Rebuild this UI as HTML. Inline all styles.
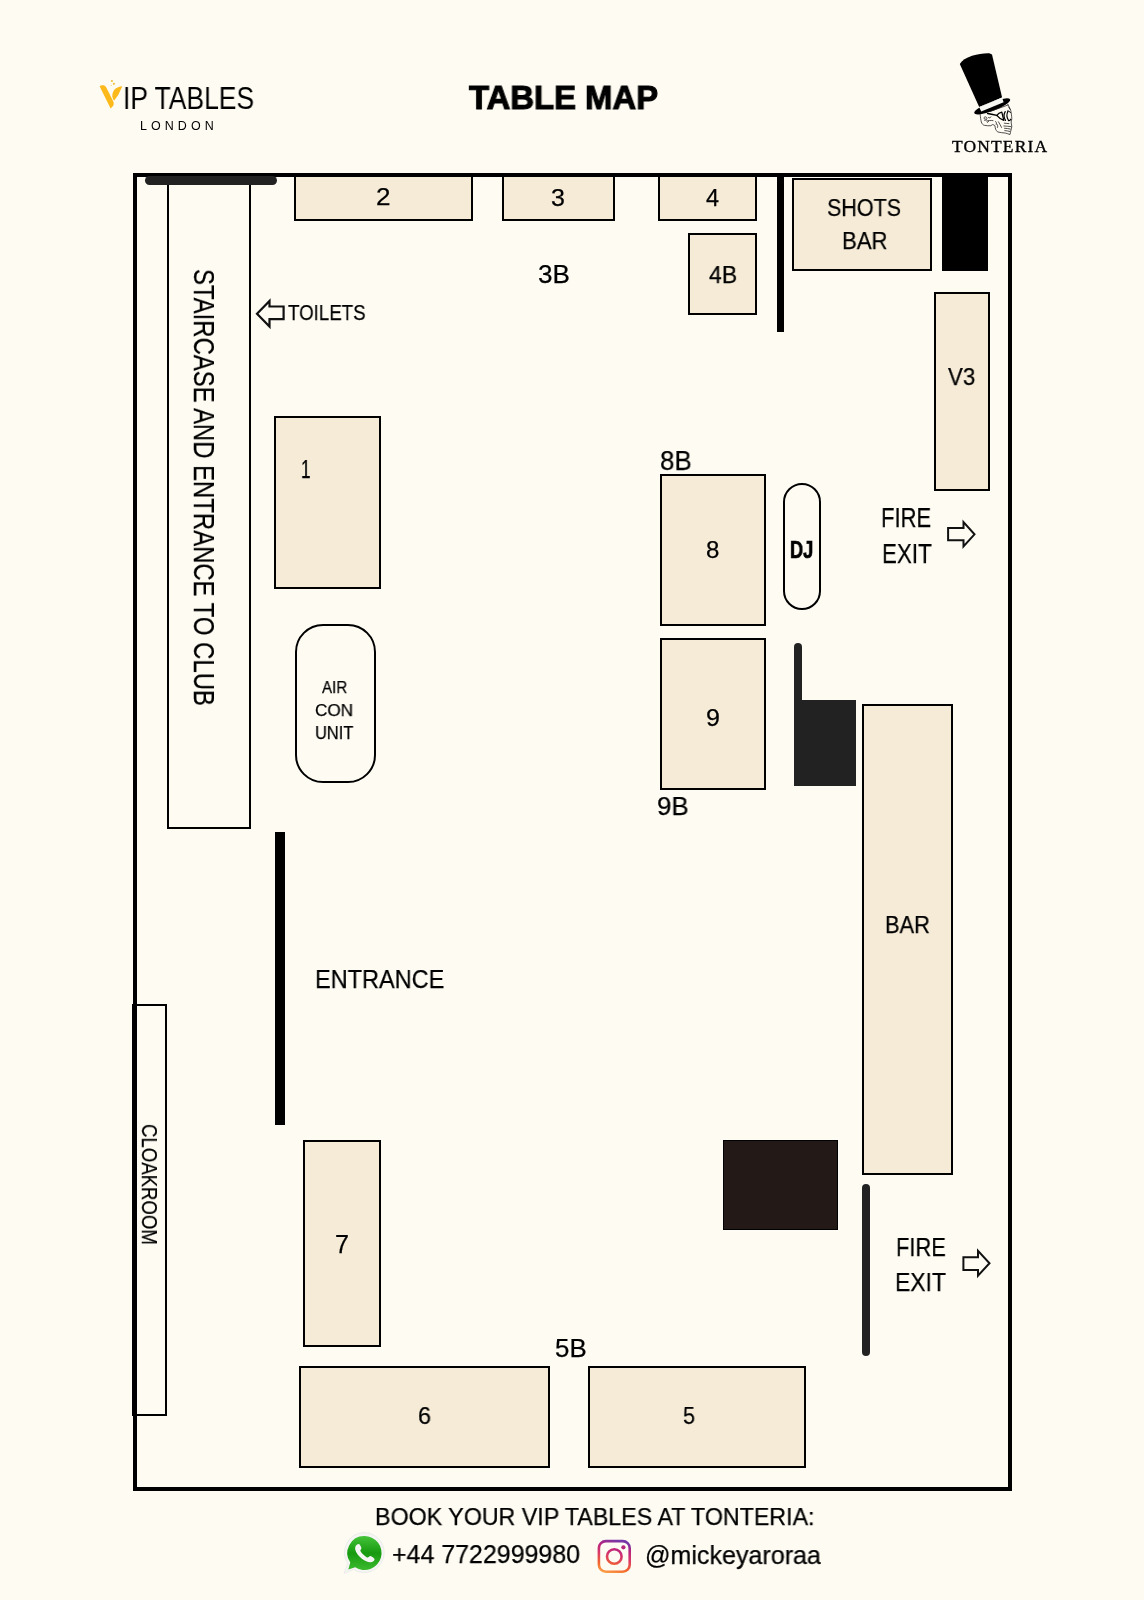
<!DOCTYPE html>
<html><head><meta charset="utf-8">
<style>
html,body{margin:0;padding:0;}
body{-webkit-font-smoothing:antialiased;width:1144px;height:1600px;background:#FEFBF3;position:relative;overflow:hidden;font-family:"Liberation Sans",sans-serif;color:#111;}
.a{position:absolute;box-sizing:border-box;}
.t{background:#F5EBD7;border:2px solid #000;}
.l{position:absolute;white-space:nowrap;line-height:1;transform-origin:0 0;will-change:transform;-webkit-text-stroke:0.25px #000;}
svg{position:absolute;overflow:visible;}
</style></head><body>

<!-- ===== header ===== -->
<svg style="left:96px;top:74px" width="32" height="38" viewBox="0 0 32 38">
 <path d="M3.6,12.3 C4.5,11.3 6,11 7.3,11.2 C8.7,11.5 9.7,12.3 10.3,13.4 L17.2,27.2 C17.9,28.6 17.9,30.3 17.2,31.7 L14.6,34.5 Z" fill="#FBB91B"/>
 <path d="M26.3,12.2 C23.8,12.3 21.5,13.1 19.6,14.6 C17.4,16.5 16.1,19.5 16.3,22.3 C16.5,24 17.2,25.5 18.2,26.6 L22.4,20.8 Z" fill="#FBB91B"/>
 <circle cx="15.9" cy="7" r="1.1" fill="#F0C040"/>
 <circle cx="17.9" cy="9.8" r="1.1" fill="#F0C040"/>
 <circle cx="15.2" cy="11.3" r="0.5" fill="#F0C040"/>
</svg>
<div class="l" style="left:122.71px;top:84.3px;font-size:30.73px;-webkit-text-stroke:0px #000;transform:scaleX(0.8628);color:#000">IP TABLES</div>
<div class="l" style="left:139.9px;top:120.0px;font-size:12.47px;letter-spacing:4.06px;-webkit-text-stroke:0px #000;color:#000">LONDON</div>
<div class="l" style="left:469.0px;top:80.5px;font-size:33.18px;font-weight:bold;-webkit-text-stroke:1.1px #000;transform:scaleX(0.9895);color:#000">TABLE MAP</div>

<svg style="left:950px;top:45px" width="75" height="95" viewBox="0 0 75 95">
 <ellipse cx="42.2" cy="61.4" rx="19.2" ry="4.4" transform="rotate(-21 42.2 61.4)" fill="#000"/>
 <path d="M9.8,19 C12,15.5 16,13 22,10.8 C28,8.9 34,8 39.3,8.2 L42,9.5 L52.1,52.5 L29.2,62 Z" fill="#000"/>
 <path d="M29.2,62 L52.1,52.5 L53.6,57.2 L31.2,66.4 Z" fill="#F6F6F2"/>
 <g fill="none" stroke="#1a1a1a" stroke-width="0.75" stroke-linejoin="round" stroke-linecap="round">
  <path d="M30.2,69.7 C30.5,72.5 30.8,75 31.3,77 C32,79 33,80 34.3,80.3 C36.5,80.8 39,80.9 40.9,80.7 L42.4,79.6 C43.5,79.8 44.5,80 44.9,80.7 C45.2,82 45.3,83.5 45.7,84.4 C46.5,85.8 47,86.6 47.9,87 C50.5,87.6 53,87.9 55.2,88 C57,88.4 58.8,89.2 60,89.5 C60.4,88.3 60.5,87 60.7,86.2 C61.2,84.5 61.7,82.8 61.8,81.4 C61.6,79.8 61.2,78.2 61.1,77 C61.4,75.8 61.8,74.5 61.8,73.4 C61.6,70.5 61.2,67.5 60.7,65.3 C59.8,63 58.8,61 57.8,59.4"/>
  <path d="M35.5,74.2 C34.2,74.4 33.6,73.2 34.2,72.4 C34.9,71.5 36.4,71.8 36.8,72.8 C37.3,74 36.3,75.6 34.6,75.4"/>
  <path d="M38.5,72.5 L39.8,73 L40.8,71.8"/>
  <path d="M36.5,76 C38.5,75.4 41,75.3 43,75.6 M37.3,77.4 L38.6,76.4"/>
  <path d="M45.5,76.5 C46.5,77 46.8,78.2 46.3,79.3 M46.8,79 C47.8,80 48,81.5 47.5,82.5 M48.5,76.8 C49.8,78.5 50.5,81 51.5,82.5"/>
  <path d="M54.3,78.2 C56,78.5 57.5,78.4 59,78.6 M53.8,81 C56,81.3 58.5,81.1 61,81.6 M54.5,83.3 C56.5,83.6 58.5,83.4 60.4,84 M54.8,85.6 C56.5,86 58.3,85.8 59.8,86.4"/>
  <path d="M58.6,62 L60.2,64.5 M40,66.5 L58,60"/>
 </g>
 <path d="M37.6,68.4 C41,69 44,69.6 46.8,70.4" stroke="#000" stroke-width="1.5" fill="none" stroke-linecap="round"/>
 <path d="M46.8,70.4 C48,68.8 49.8,67.6 51.8,67.1 L53.8,75.3 C51.2,74.5 48.6,72.6 46.8,70.4 Z" fill="none" stroke="#000" stroke-width="1.3" stroke-linejoin="round"/>
 <path d="M55.2,66.6 C53.8,69 53.9,72.8 55.5,75.4 M58,66.2 C56.6,68.8 56.8,72.8 58.6,75.6 C59.6,75.8 60.4,75.2 60.8,74.2" fill="none" stroke="#000" stroke-width="1.2" stroke-linecap="round"/>
 <path d="M57.2,66 C58.8,65.8 60,66.6 60.6,68" fill="none" stroke="#000" stroke-width="1"/>
</svg>
<div class="l" style="left:952.0px;top:138.0px;font-size:17.48px;font-family:'Liberation Serif', serif;letter-spacing:1.143px;-webkit-text-stroke:0.35px #000;color:#000">TONTERIA</div>

<!-- ===== floor plan ===== -->
<div class="a" style="left:133px;top:173px;width:879px;height:1318px;border:4px solid #000;"></div>
<div class="a" style="left:167px;top:180px;width:84px;height:648.5px;border:2px solid #000;"></div>
<div class="a" style="left:145px;top:176px;width:132px;height:9px;background:#222;border-radius:4.5px;"></div>
<div class="l" style="left:219.0px;top:269.19px;font-size:29.6px;transform:rotate(90deg) scaleX(0.8076);color:#000">STAIRCASE AND ENTRANCE TO CLUB</div>

<div class="a t" style="left:294px;top:175px;width:179px;height:46px;"></div>
<div class="l" style="left:376.49px;top:185.7px;font-size:23.49px;transform:scaleX(1.1091);color:#000">2</div>
<div class="a t" style="left:502px;top:175px;width:113px;height:46px;"></div>
<div class="l" style="left:551.24px;top:186.6px;font-size:23.49px;transform:scaleX(1.0636);color:#000">3</div>
<div class="a t" style="left:658px;top:175px;width:99px;height:46px;"></div>
<div class="l" style="left:706.0px;top:186.6px;font-size:23.49px;color:#000">4</div>
<div class="a t" style="left:688px;top:233px;width:69px;height:82px;"></div>
<div class="l" style="left:708.6px;top:262.5px;font-size:24.64px;transform:scaleX(0.9345);color:#000">4B</div>
<div class="l" style="left:537.61px;top:261.3px;font-size:26.09px;transform:scaleX(0.9867);color:#000">3B</div>

<svg style="left:0;top:0" width="1144" height="1600" viewBox="0 0 1144 1600">
 <polygon points="257,313.7 269.5,301 269.5,306.5 283.6,306.5 283.6,319.2 269.5,319.2 269.5,326.5" fill="none" stroke="#111" stroke-width="2.2" stroke-linejoin="miter"/>
 <polygon points="948.1,528 963.5,528 963.5,522 974.5,534.3 963.5,546.5 963.5,540.2 948.1,540.2" fill="none" stroke="#111" stroke-width="2" stroke-linejoin="miter"/>
 <polygon points="963.4,1257.2 978,1257.2 978,1250.7 989.5,1263.2 978,1275.7 978,1270 963.4,1270" fill="none" stroke="#111" stroke-width="2" stroke-linejoin="miter"/>
</svg>
<div class="l" style="left:288.3px;top:302.0px;font-size:22.32px;transform:scaleX(0.838);color:#000">TOILETS</div>

<div class="a" style="left:777px;top:177px;width:7px;height:155px;background:#000;"></div>
<div class="a t" style="left:792px;top:178px;width:140px;height:93px;"></div>
<div class="l" style="left:827.11px;top:196.2px;font-size:24.1px;transform:scaleX(0.8914);color:#000">SHOTS</div>
<div class="l" style="left:841.7px;top:228.5px;font-size:24.64px;transform:scaleX(0.9);color:#000">BAR</div>
<div class="a" style="left:942px;top:177px;width:46px;height:94px;background:#000;"></div>
<div class="a t" style="left:934px;top:292px;width:56px;height:199px;"></div>
<div class="l" style="left:948.2px;top:365.4px;font-size:23.82px;transform:scaleX(0.9321);color:#000">V3</div>

<div class="a t" style="left:274px;top:415.5px;width:106.5px;height:173px;"></div>
<div class="l" style="left:300.52px;top:457.4px;font-size:24.93px;transform:scaleX(0.6909);color:#000">1</div>
<div class="a" style="left:294.5px;top:624px;width:81px;height:158.5px;border:2px solid #000;border-radius:28px;"></div>
<div class="l" style="left:321.75px;top:680.25px;font-size:16.68px;transform:scaleX(0.9074);color:#000">AIR</div>
<div class="l" style="left:315.26px;top:701.75px;font-size:17.42px;transform:scaleX(0.9861);color:#000">CON</div>
<div class="l" style="left:314.63px;top:724.25px;font-size:18.84px;transform:scaleX(0.8721);color:#000">UNIT</div>

<div class="l" style="left:659.75px;top:446.7px;font-size:27.26px;transform:scaleX(0.9484);color:#000">8B</div>
<div class="a t" style="left:660px;top:474px;width:106px;height:152px;"></div>
<div class="l" style="left:705.96px;top:538.7px;font-size:23.21px;transform:scaleX(1.0364);color:#000">8</div>
<div class="a" style="left:783px;top:483px;width:38px;height:127px;border:2px solid #000;border-radius:19px;"></div>
<div class="l" style="left:789.72px;top:538.7px;font-size:23.21px;font-weight:bold;-webkit-text-stroke:0.7px #000;transform:scaleX(0.7821);color:#000">DJ</div>
<div class="l" style="left:881.49px;top:504.4px;font-size:27.26px;transform:scaleX(0.8068);color:#000">FIRE</div>
<div class="l" style="left:881.74px;top:540.5px;font-size:26.96px;transform:scaleX(0.8276);color:#000">EXIT</div>
<div class="a t" style="left:660px;top:638px;width:106px;height:151.5px;"></div>
<div class="l" style="left:706.05px;top:705.5px;font-size:23.77px;transform:scaleX(1.0545);color:#000">9</div>
<div class="l" style="left:657.12px;top:793.0px;font-size:26.39px;transform:scaleX(0.98);color:#000">9B</div>

<div class="a" style="left:793.5px;top:643px;width:8.5px;height:129px;background:#222;border-radius:4.25px 4.25px 0 0;"></div>
<div class="a" style="left:794px;top:699.5px;width:61.5px;height:86px;background:#222;"></div>

<div class="a t" style="left:862px;top:704px;width:90.5px;height:471px;"></div>
<div class="l" style="left:884.88px;top:913.2px;font-size:24.06px;transform:scaleX(0.9087);color:#000">BAR</div>

<div class="a" style="left:275px;top:832px;width:10px;height:293px;background:#000;"></div>
<div class="l" style="left:315.03px;top:965.5px;font-size:26.67px;transform:scaleX(0.8826);color:#000">ENTRANCE</div>

<div class="a" style="left:132px;top:1004px;width:35px;height:412px;border:2px solid #000;border-left:5px solid #000;"></div>
<div class="l" style="left:159.0px;top:1124.13px;font-size:21.47px;transform:rotate(90deg) scaleX(0.8657);color:#000">CLOAKROOM</div>

<div class="a t" style="left:303px;top:1140px;width:77.5px;height:207px;"></div>
<div class="l" style="left:334.69px;top:1232.4px;font-size:24.93px;transform:scaleX(1.0083);color:#000">7</div>
<div class="a" style="left:723px;top:1139.5px;width:115px;height:90.5px;background:#231917;border:1.5px solid #000;"></div>
<div class="a" style="left:862px;top:1184px;width:8px;height:172px;background:#222;border-radius:4px;"></div>
<div class="l" style="left:895.56px;top:1234.0px;font-size:26.67px;transform:scaleX(0.8207);color:#000">FIRE</div>
<div class="l" style="left:895.48px;top:1269.0px;font-size:26.67px;transform:scaleX(0.8596);color:#000">EXIT</div>

<div class="l" style="left:555.1px;top:1336.2px;font-size:25.8px;transform:scaleX(1.0034);color:#000">5B</div>
<div class="a t" style="left:299px;top:1365.5px;width:250.5px;height:102px;"></div>
<div class="l" style="left:417.74px;top:1403.9px;font-size:24.38px;transform:scaleX(0.9583);color:#000">6</div>
<div class="a t" style="left:588px;top:1365.5px;width:217.5px;height:102px;"></div>
<div class="l" style="left:683.02px;top:1403.9px;font-size:24.38px;transform:scaleX(0.8833);color:#000">5</div>

<!-- ===== footer ===== -->
<div class="l" style="left:374.85px;top:1504.6px;font-size:23.82px;transform:scaleX(0.9758);color:#000">BOOK YOUR VIP TABLES AT TONTERIA:</div>
<svg style="left:338px;top:1528px" width="52" height="52" viewBox="0 0 52 52">
 <defs>
  <linearGradient id="wg" x1="0" y1="0" x2="0" y2="1">
   <stop offset="0" stop-color="#45C33A"/><stop offset="0.5" stop-color="#179A10"/><stop offset="1" stop-color="#3BBA2E"/>
  </linearGradient>
  <linearGradient id="ig" gradientUnits="userSpaceOnUse" x1="15" y1="42" x2="24" y2="8">
   <stop offset="0" stop-color="#FBA64A"/><stop offset="0.25" stop-color="#F2652E"/><stop offset="0.55" stop-color="#D8376A"/><stop offset="0.78" stop-color="#B8237F"/><stop offset="1" stop-color="#7438A8"/>
  </linearGradient>
 </defs>
 <path d="M26.2,4.6 A20,20 0 1 1 15.5,41.5 L6,45.5 L9.8,35.5 A20,20 0 0 1 26.2,4.6 Z" fill="#F5F5F3" stroke="#E8E8E6" stroke-width="0.8"/>
 <path d="M26.1,8 A17,17 0 1 1 17.2,39.2 L10.3,41.4 L12.3,34.6 A17,17 0 0 1 26.1,8 Z" fill="url(#wg)"/>
 <path d="M19.6,16.3 C18,17 16.8,18.8 17.2,21.6 C18,25 20.6,28.5 24.2,31 C27.5,33.3 31,34.8 34,33.9 C35.6,33.4 36.7,32.2 36.5,31 C36.3,30.2 33.6,28.2 32.5,28 C31.5,27.8 30.6,29.6 29.8,29.6 C28.5,29.6 23.8,25.7 22.4,23 C22,22.2 23.6,21.2 23.4,20.1 C23.2,19 21.8,16 20.9,16 Z" fill="#F6F6F6"/>
</svg>
<div class="l" style="left:391.53px;top:1542.3px;font-size:25.8px;transform:scaleX(0.9674);color:#000">+44 7722999980</div>
<svg style="left:592px;top:1532px" width="46" height="46" viewBox="0 0 46 46">
 <rect x="6.9" y="9.1" width="30.8" height="30.6" rx="7" ry="7" fill="none" stroke="url(#ig)" stroke-width="2.6"/>
 <circle cx="22.3" cy="24.5" r="7.3" fill="none" stroke="url(#ig)" stroke-width="2.6"/>
 <circle cx="31.4" cy="15.3" r="2.1" fill="#B5267F"/>
</svg>
<div class="l" style="left:644.61px;top:1543.0px;font-size:25.16px;transform:scaleX(0.9966);color:#000">@mickeyaroraa</div>

</body></html>
